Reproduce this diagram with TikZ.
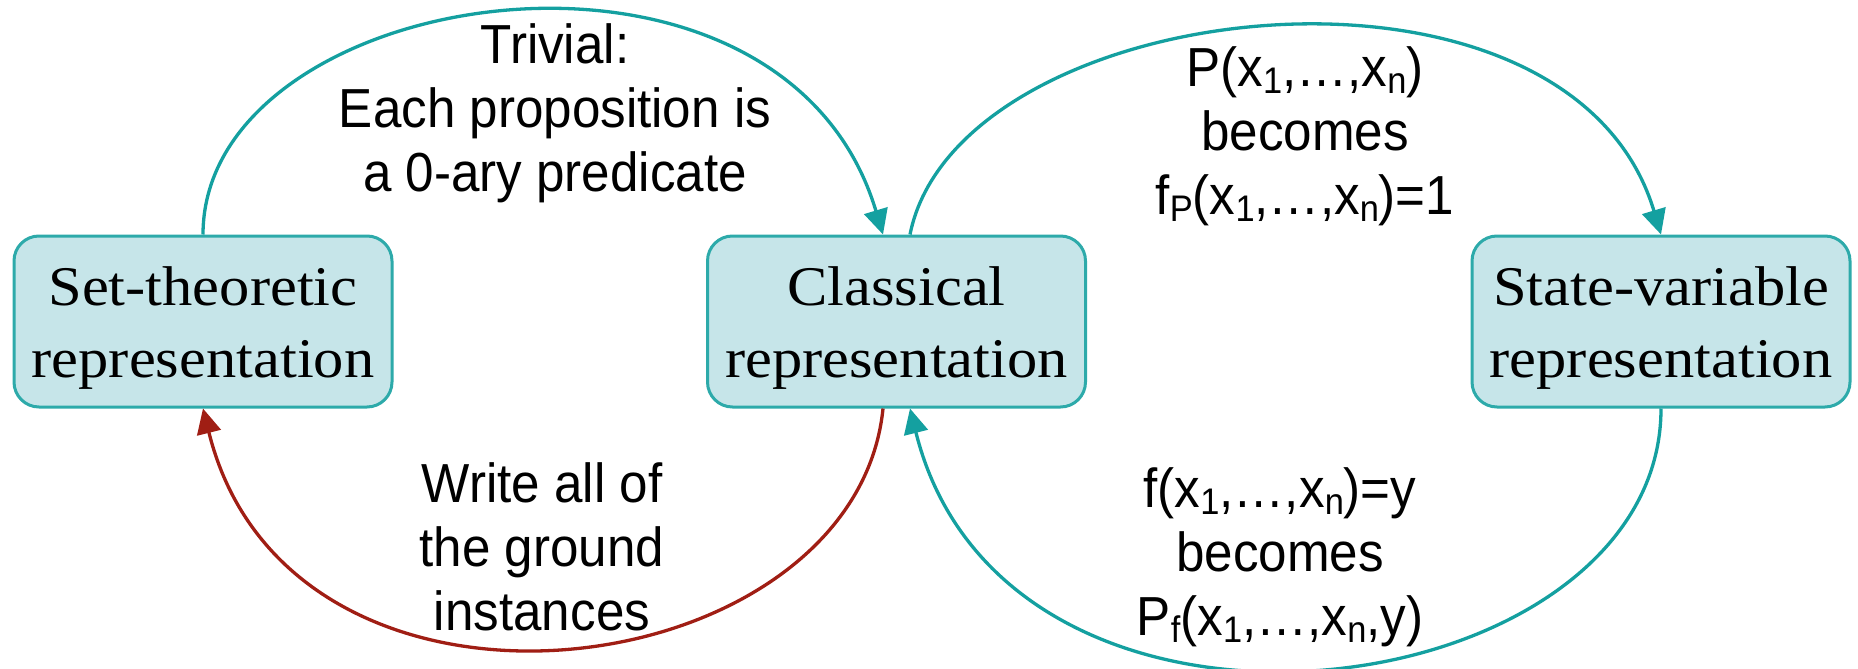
\documentclass[tikz,border=0pt]{standalone}
\usepackage{fontspec}
\setmainfont{Liberation Serif}
\newfontfamily\boxfont[FakeStretch=1.08]{Liberation Serif}
\newfontfamily\arialfont[FakeStretch=0.93]{Liberation Sans}
\usetikzlibrary{arrows.meta}
\definecolor{tealline}{RGB}{20,160,160}
\definecolor{boxfill}{RGB}{198,229,233}
\definecolor{boxdraw}{RGB}{45,170,170}
\definecolor{darkred}{RGB}{160,30,20}
\newcommand{\topstrut}{\rule{0pt}{51pt}}
\newcommand{\sbs}[1]{\raisebox{-7pt}{\fontsize{37}{37}\selectfont #1}}
\begin{document}
\begin{tikzpicture}[x=1pt,y=-1pt,
  repbox/.style={draw=boxdraw, line width=3pt, fill=boxfill, rounded corners=25pt,
    minimum width=378pt, minimum height=171pt, align=center, inner sep=0pt,
    font=\boxfont\fontsize{56}{72}\selectfont},
  conn/.style={line width=3.3pt, -{Triangle[width=24pt,length=25pt]}},
  lbl/.style={align=center, inner sep=0pt, font=\arialfont\fontsize{55}{64}\selectfont}]
\fill[white] (0,0) rectangle (1858,669);
\useasboundingbox (0,0) rectangle (1858,669);
\node[repbox] (A) at (203,321.5) {\topstrut Set-theoretic\\representation};
\node[repbox] (B) at (896.5,321.5) {\topstrut Classical\\representation};
\node[repbox] (C) at (1661,321.5) {\topstrut State-variable\\representation};
\draw[conn, tealline] (A.north) .. controls +(0,-250) and +(-102,-340) .. ([xshift=-13.5pt]B.north);
\draw[conn, tealline] ([xshift=13.5pt]B.north) .. controls +(48,-240) and +(-93,-310) .. (C.north);
\draw[conn, darkred] ([xshift=-13.5pt]B.south) .. controls +(-28,280) and +(88,355) .. (A.south);
\draw[conn, tealline] (C.south) .. controls +(0,300) and +(97,390) .. ([xshift=13.5pt]B.south);
\node[lbl] (tl) at (555,113) {Trivial:\\Each proposition is\\a 0-ary predicate};
\node[lbl] (tr) at (1305,136) {P(x\sbs{1},…,x\sbs{n})\\becomes\\f\sbs{P}(x\sbs{1},…,x\sbs{n})=1};
\node[lbl] (bl) at (542,546.5) {Write all of\\the ground\\instances};
\node[lbl] (br) at (1280,557) {f(x\sbs{1},…,x\sbs{n})=y\\becomes\\P\sbs{f}(x\sbs{1},…,x\sbs{n},y)};
\end{tikzpicture}
\end{document}
